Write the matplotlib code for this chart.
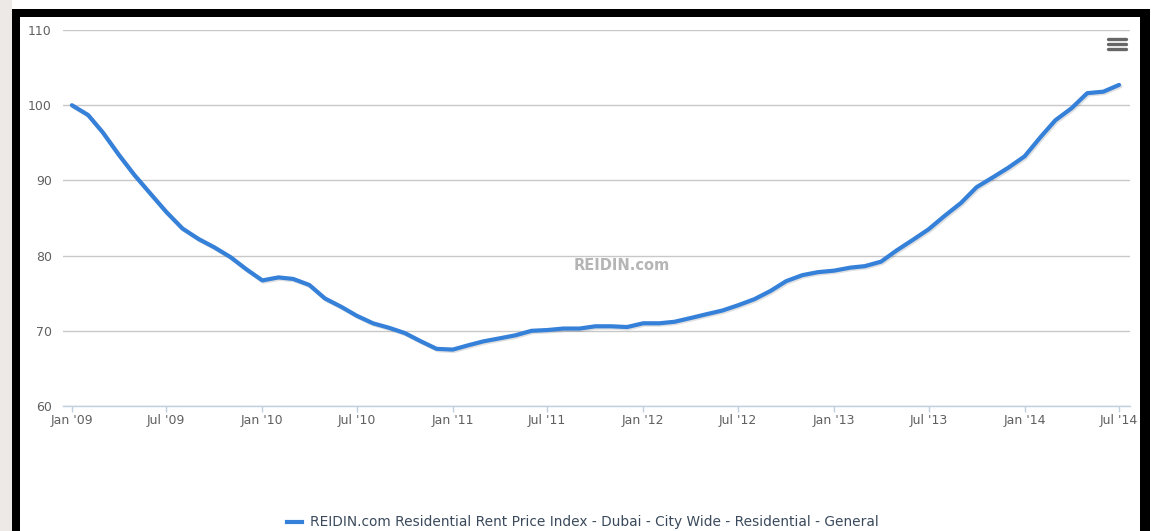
import matplotlib
matplotlib.use("Agg")
import matplotlib.pyplot as plt
import matplotlib.dates as mdates
import matplotlib.patheffects as pe
from matplotlib.patches import Rectangle
from matplotlib.lines import Line2D
import pandas as pd

# ---- data (monthly index, Jan 2009 .. Jul 2014) ----
start_month = "2009-01-01"
index_values = [
    100.0, 98.7, 96.4, 93.4, 90.7, 88.2, 85.8, 83.6, 82.2, 81.1, 79.8, 78.2,   # 2009
    76.7, 77.1, 76.9, 76.1, 74.3, 73.2, 72.0, 71.0, 70.4, 69.7, 68.6, 67.6,    # 2010
    67.5, 68.1, 68.6, 69.0, 69.4, 70.0, 70.1, 70.3, 70.3, 70.6, 70.6, 70.5,    # 2011
    71.0, 71.0, 71.2, 71.7, 72.2, 72.7, 73.4, 74.2, 75.3, 76.6, 77.4, 77.8,    # 2012
    78.0, 78.4, 78.6, 79.2, 80.7, 82.1, 83.5, 85.3, 87.0, 89.1, 90.4, 91.7,    # 2013
    93.2, 95.8, 98.0, 99.6, 101.6, 101.8, 102.7,                               # 2014
]
series_name = "REIDIN.com Residential Rent Price Index - Dubai - City Wide - Residential - General"
y_ticks = [60, 70, 80, 90, 100, 110]
watermark = "REIDIN.com"

dates = pd.date_range(start_month, periods=len(index_values), freq="MS")

W, H = 1151, 531
fig = plt.figure(figsize=(W / 100, H / 100), dpi=100)
fig.patch.set_facecolor("white")

def fx(x):
    return x / W

def fy(y):
    return 1 - y / H

# frame decorations
fig.patches.append(Rectangle((0, 0), fx(12), 1, transform=fig.transFigure,
                             facecolor="#ece9e6", edgecolor="none", zorder=-3))
fig.patches.append(Rectangle((fx(12), 0), fx(1150) - fx(12), fy(9), transform=fig.transFigure,
                             facecolor="black", edgecolor="none", zorder=-2))
fig.patches.append(Rectangle((fx(20), 0), fx(1140) - fx(20), fy(17), transform=fig.transFigure,
                             facecolor="white", edgecolor="none", zorder=-1))

left, right, top, bottom = 63, 1130, 30, 406
ax = fig.add_axes([fx(left), fy(bottom), fx(right) - fx(left), fy(top) - fy(bottom)])
ax.set_facecolor("none")

line_color = "#3580d8"
ax.plot(dates, index_values, color=line_color, lw=3.0, solid_capstyle="round",
        solid_joinstyle="round", zorder=3,
        path_effects=[pe.SimpleLineShadow(offset=(1, -1), shadow_color="black", alpha=0.12),
                      pe.Normal()])

x0 = pd.Timestamp("2009-01-01") - pd.Timedelta(days=17)
x1 = pd.Timestamp("2014-07-01") + pd.Timedelta(days=21)
ax.set_xlim(x0, x1)
ax.set_ylim(60, 110)
ax.set_yticks(y_ticks)

ax.xaxis.set_major_locator(mdates.MonthLocator(bymonth=[1, 7]))
ax.xaxis.set_major_formatter(mdates.DateFormatter("%b '%y"))

for s in ["left", "right", "top"]:
    ax.spines[s].set_visible(False)
ax.spines["bottom"].set_color("#c0d0e0")
ax.spines["bottom"].set_linewidth(1)

ax.grid(axis="y", color="#c8c8c8", lw=1)
ax.set_axisbelow(True)

ax.tick_params(axis="x", direction="out", length=4, width=1, color="#c0d0e0",
               labelsize=9.0, labelcolor="#606060", pad=1.5)
ax.tick_params(axis="y", length=0, labelsize=9.0, labelcolor="#606060", pad=8)

# watermark
fig.text(fx(622), fy(265), watermark, ha="center", va="center",
         fontsize=10.5, fontweight="bold", color="#b5b5b5")

# legend
fig.add_artist(Line2D([fx(287), fx(302)], [fy(522), fy(522)], color=line_color, lw=3,
                      transform=fig.transFigure))
fig.text(fx(310), fy(522), series_name, ha="left", va="center",
         fontsize=9.9, color="#3a4a5c")

# menu icon
for yy in (38.5, 43.5, 49):
    fig.add_artist(Line2D([fx(1108), fx(1126)], [fy(yy), fy(yy)], color="#666666", lw=2.4,
                          solid_capstyle="round", transform=fig.transFigure))

fig.savefig("out.png", dpi=100)
